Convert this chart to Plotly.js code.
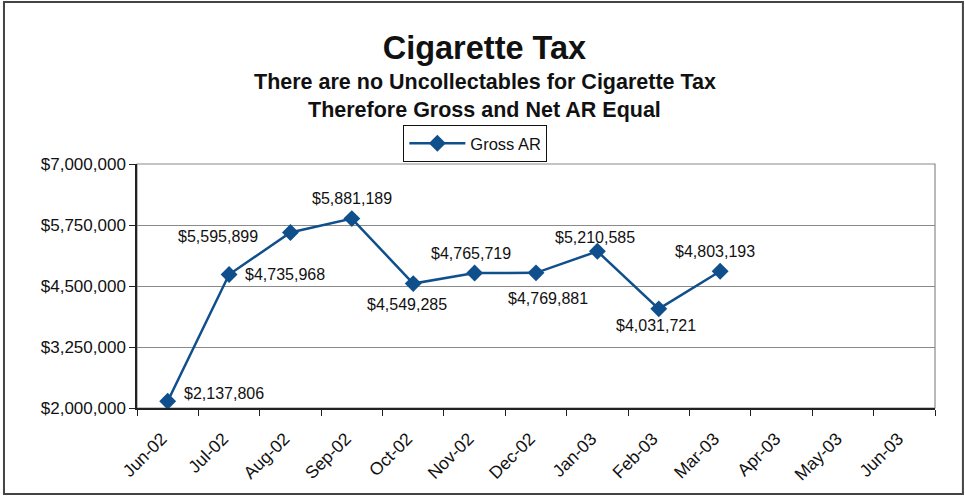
<!DOCTYPE html>
<html>
<head>
<meta charset="utf-8">
<script src="https://cdn.plot.ly/plotly-3.0.1.min.js"></script>
<style>
html,body{margin:0;padding:0;background:#fff;}
#chart{width:965px;height:496px;}
</style>
</head>
<body>
<div id="chart"></div>
<script>
// ---- Data ----
const months = ["Jun-02","Jul-02","Aug-02","Sep-02","Oct-02","Nov-02","Dec-02","Jan-03","Feb-03","Mar-03","Apr-03","May-03","Jun-03"];
const grossAR = [2137806, 4735968, 5595899, 5881189, 4549285, 4765719, 4769881, 5210585, 4031721, 4803193];
const seriesName = "Gross AR";
const titleText = "Cigarette Tax";
const subtitleLines = ["There are no Uncollectables for Cigarette Tax", "Therefore Gross and Net AR Equal"];

// label offsets in pixels (style only)
const labelShift = [[56,8],[56,0],[-72,-4],[0,20],[-6,-21],[-4,20],[12,-26],[-2,14],[-3,-17],[-5,20]];

const FONT = "Arial, 'Liberation Sans', sans-serif";
const LINE = "#0f4f8c";

const fmt = v => "$" + v.toLocaleString("en-US");

const xs = months.slice(0, grossAR.length);

const trace = {
  x: xs, y: grossAR, type: "scatter", mode: "lines+markers", name: seriesName,
  line: {color: LINE, width: 2.5},
  marker: {symbol: "diamond", size: 13, color: LINE},
  showlegend: true, hoverinfo: "x+y"
};

const annotations = grossAR.map((v, i) => ({
  x: xs[i], y: v, xref: "x", yref: "y", text: fmt(v), showarrow: false,
  xshift: labelShift[i][0], yshift: labelShift[i][1],
  font: {family: FONT, size: 16, color: "#111"}
}));
subtitleLines.forEach((t, i) => annotations.push({
  x: 0.436, y: i === 0 ? 1.336 : 1.221, xref: "paper", yref: "paper",
  text: "<b>" + t + "</b>", showarrow: false, xanchor: "center", yanchor: "middle",
  font: {family: FONT, size: 21.5, color: "#111"}
}));

const layout = {
  width: 965, height: 496,
  paper_bgcolor: "#fff", plot_bgcolor: "#fff",
  margin: {l: 137, r: 30, t: 164, b: 88},
  title: {text: "<b>" + titleText + "</b>", x: 0.502, xref: "container", y: 0.903, yref: "container",
          xanchor: "center", yanchor: "middle", font: {family: FONT, size: 32.5, color: "#111"}},
  font: {family: FONT, color: "#111"},
  xaxis: {
    type: "category", categoryorder: "array", categoryarray: months,
    range: [-0.5, months.length - 0.5], tickson: "boundaries",
    ticks: "outside", ticklen: 6, tickcolor: "#222", tickwidth: 1.2,
    showline: true, linecolor: "#222", linewidth: 1.5, showgrid: false, zeroline: false,
    tickangle: -45, ticklabelstandoff: 12, ticklabelshift: -6,
    tickfont: {family: FONT, size: 17.5, color: "#111"}, fixedrange: true
  },
  yaxis: {
    range: [2000000, 7000000], dtick: 1250000, tick0: 2000000, tickformat: "$,.0f",
    ticks: "outside", ticklen: 6, tickcolor: "#222", tickwidth: 1.2,
    showline: true, linecolor: "#222", linewidth: 1.5,
    showgrid: true, gridcolor: "#8a8a8a", gridwidth: 1, zeroline: false,
    tickfont: {family: FONT, size: 17, color: "#111"}, fixedrange: true
  },
  legend: {
    x: 0.424, y: 1.16, xanchor: "center", yanchor: "top", orientation: "h",
    bordercolor: "#111", borderwidth: 1, bgcolor: "#fff", itemwidth: 56,
    font: {family: FONT, size: 16.5, color: "#111"}
  },
  shapes: [
    {type: "rect", xref: "paper", yref: "paper", x0: 0, x1: 1, y0: 0, y1: 1,
     line: {color: "#8a8a8a", width: 1.2}, layer: "below"},
    {type: "rect", xref: "paper", yref: "paper", x0: -0.1667, x1: 1.035, y0: -0.352, y1: 1.664,
     line: {color: "#444", width: 2}, layer: "below"}
  ],
  annotations: annotations
};

Plotly.newPlot("chart", [trace], layout, {displayModeBar: false, responsive: false});
</script>
</body>
</html>
